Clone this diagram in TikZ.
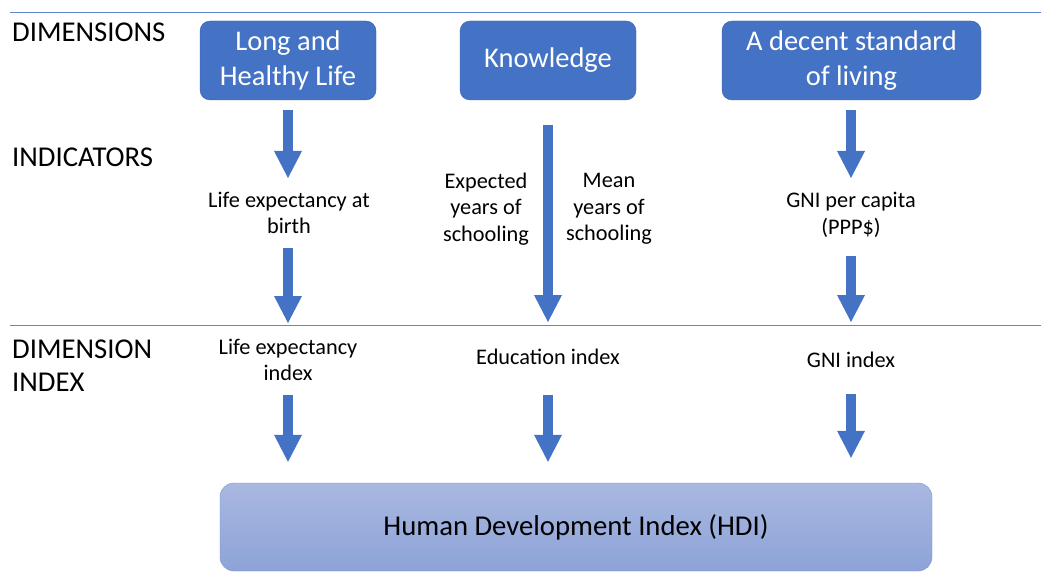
\documentclass[tikz,border=0pt]{standalone}
\usepackage{fontspec}
\setmainfont{Carlito}
\usetikzlibrary{arrows.meta}
\definecolor{hdiblue}{HTML}{4472C4}
\definecolor{hditop}{HTML}{A9B8E0}
\definecolor{hdibot}{HTML}{8DA3D8}
\definecolor{hdiedge}{HTML}{7191D3}

\begin{document}
\begin{tikzpicture}[x=1pt,y=-1pt,
  dimbox/.style={fill=hdiblue, draw=hdiblue!85!black, rounded corners=10pt, text=white,
    minimum height=79pt, align=center, inner sep=0pt, font=\fontsize{28.5}{35}\selectfont},
  flow/.style={draw=hdiblue, line width=10pt, -{Triangle[length=27pt,width=28pt,line width=0pt]}},
  lbl/.style={align=center, inner sep=0pt, font=\fontsize{22.3}{26.5}\selectfont},
  rowlbl/.style={anchor=west, align=left, inner sep=0pt, font=\fontsize{28.7}{33}\selectfont},
  sep/.style={draw=hdiblue!85, line width=1pt}]
\useasboundingbox (0,0) rectangle (1041,572);

% row separators and row titles
\draw[sep] (10,13) -- (1041,13);
\draw[sep] (10,325) -- (1041,325);
\node[rowlbl] (tdim) at (12,32) {DIMENSIONS};
\node[rowlbl] (tind) at (12,157) {INDICATORS};
\node[rowlbl] (tidx) at (12,366) {DIMENSION\\INDEX};

% dimensions
\node[dimbox, minimum width=176pt] (health) at (288,60.5) {Long and\\Healthy Life};
\node[dimbox, minimum width=176pt] (know) at (548,60.5) {Knowledge};
\node[dimbox, minimum width=259pt] (living) at (851.5,60.5) {A decent standard\\of living};

% indicators
\node[lbl] (lifeexp) at (289,213) {Life expectancy at\\birth};
\node[lbl] (expyrs) at (486,209) {Expected\\years of\\schooling};
\node[lbl] (meanyrs) at (609,209) {Mean\\years of\\schooling};
\node[lbl] (gnipc) at (851,215) {GNI per capita\\(PPP\$)};

% dimension indices
\node[lbl] (lifeidx) at (288,360) {Life expectancy\\index};
\node[lbl] (eduidx) at (548,357) {Education index};
\node[lbl] (gniidx) at (851,360) {GNI index};

% the composite index
\node[draw=hdiedge, top color=hditop, bottom color=hdibot, rounded corners=14pt,
  minimum width=712pt, minimum height=88pt, inner sep=0pt,
  font=\fontsize{28.7}{34}\selectfont] (hdi) at (576,527) {Human Development Index (HDI)};

% arrow ends
\coordinate (e1) at (288,178);
\coordinate (e3) at (851,178);
\coordinate (s4) at (288,248);
\coordinate (e4) at (288,323);
\coordinate (e2) at (548,322);
\coordinate (s5) at (851,256);
\coordinate (e5) at (851,322);
\coordinate (s6) at (288,395);
\coordinate (s7) at (548,395);
\coordinate (s8) at (851,394);

\draw[flow, shorten <=10pt] (health) -- (e1);
\draw[flow, shorten <=25pt] (know) -- (e2);
\draw[flow, shorten <=10pt] (living.south -| e3) -- (e3);
\draw[flow] (s4) -- (e4);
\draw[flow] (s5) -- (e5);
\draw[flow, shorten >=21pt] (s6) -- (hdi.north -| s6);
\draw[flow, shorten >=21pt] (s7) -- (hdi.north -| s7);
\draw[flow, shorten >=25pt] (s8) -- (hdi.north -| s8);
\end{tikzpicture}
\end{document}
